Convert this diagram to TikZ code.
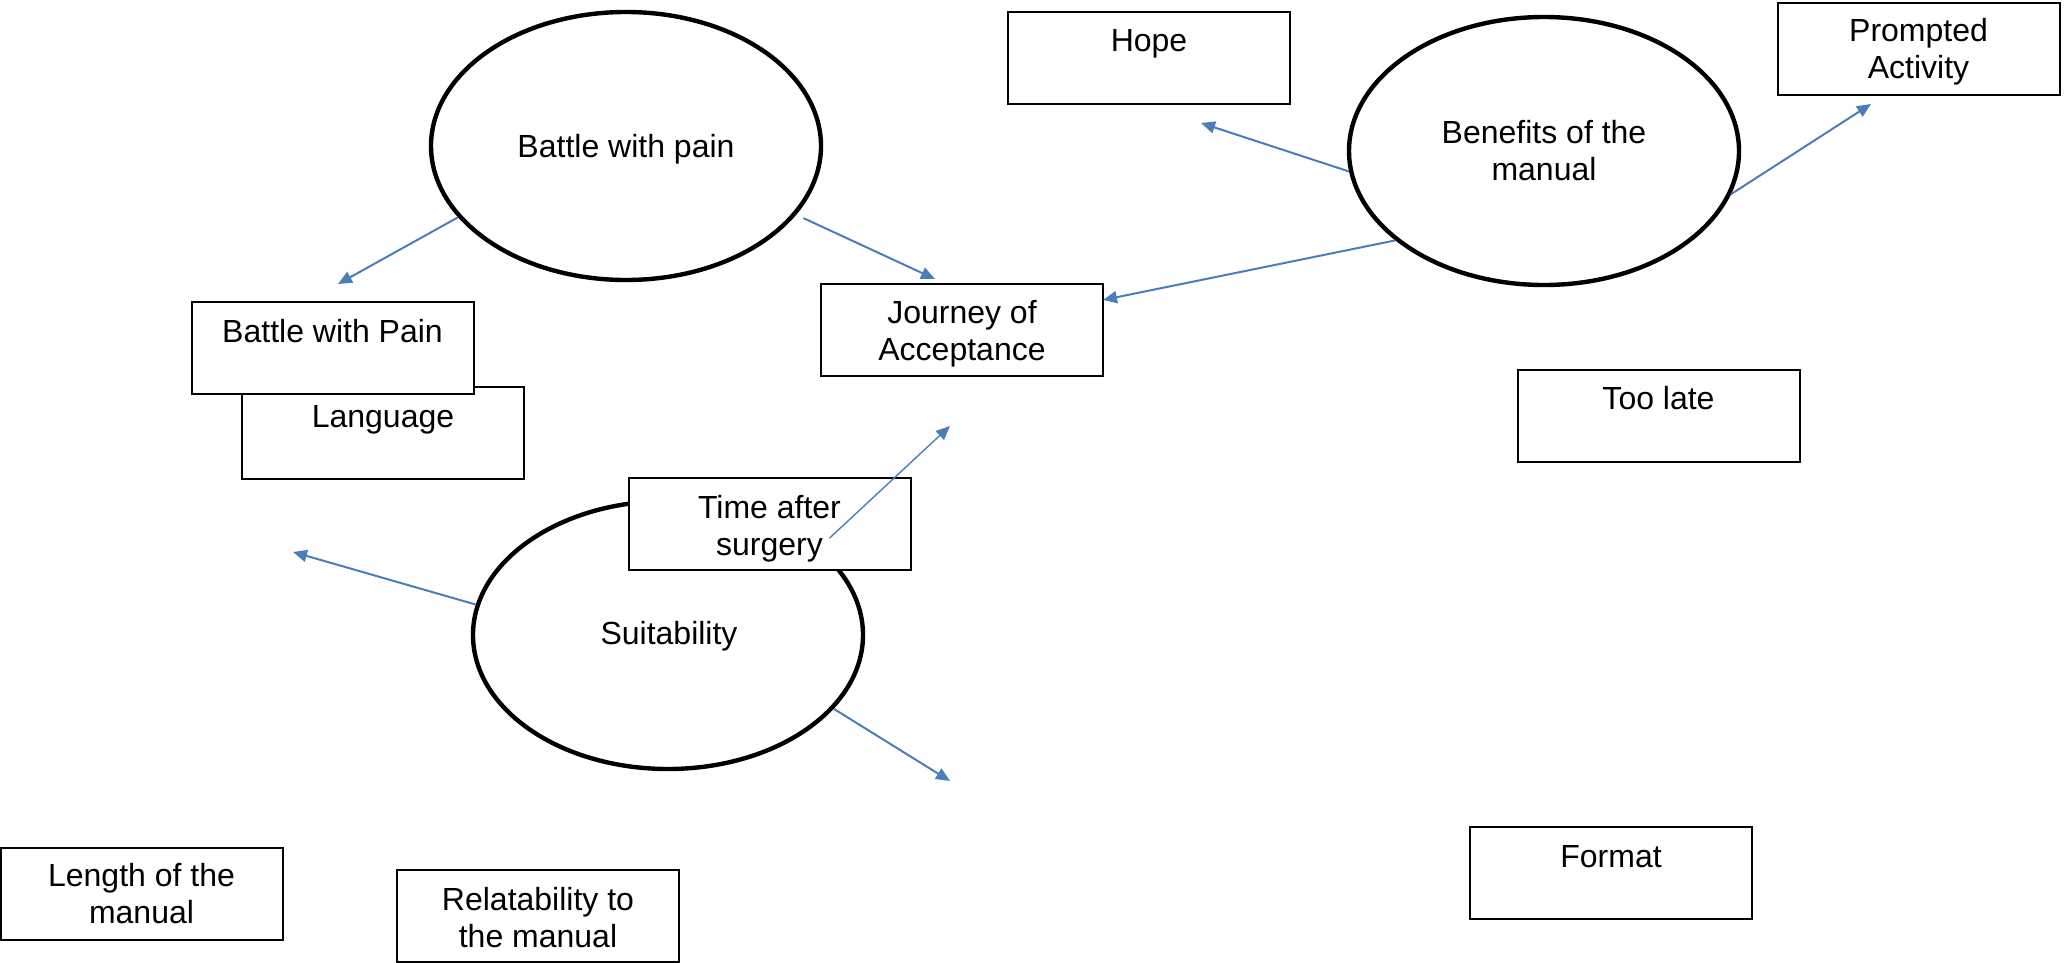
\documentclass[tikz,border=0pt]{standalone}
\usepackage{fontspec}
\setmainfont{Liberation Sans}
\usetikzlibrary{shapes.geometric,arrows.meta}
\definecolor{linkblue}{HTML}{4A7EBB}
\begin{document}
\begin{tikzpicture}[x=0.5pt,y=-0.5pt,
  theme/.style={ellipse,draw,line width=2.2pt,fill=white,
    minimum width=195pt,minimum height=134pt,inner sep=0pt},
  card/.style={rectangle,draw,line width=1pt,fill=white,
    minimum width=141pt,minimum height=46pt,inner sep=0pt},
  caption/.style={anchor=base,inner sep=0pt,align=center,
    font=\fontsize{16pt}{18.5pt}\selectfont},
  link/.style={draw=linkblue,line width=1pt,-{Triangle[length=7pt,width=6pt]}},
  thinlink/.style={link,line width=0.7pt}
]
\useasboundingbox (0,0) rectangle (2066,963);

% themes
\node[theme] (pain) at (626,146) {};
\node[theme] (bene) at (1544,151) {};
\node[theme] (suit) at (668,635) {};

% sub-theme boxes
\node[card] (lang)  at (383,432.5) {};
\node[card] (bwp)   at (332.5,347.5) {};
\node[card] (jour)  at (962,330) {};
\node[card] (hope)  at (1149,58.5) {};
\node[card] (prom)  at (1918.5,49) {};
\node[card] (late)  at (1658.5,415.5) {};
\node[card] (form)  at (1611,873) {};
\node[card] (time)  at (769.5,524) {};
\node[card] (leng)  at (141.5,893.5) {};
\node[card] (rela)  at (538,916) {};

% labels (base anchor = baseline of the last line)
\node[caption] (tpain) at (626,157) {Battle with pain};
\node[caption] (tbene) at (1544,180) {Benefits of the\\manual};
\node[caption] (tsuit) at (669,644) {Suitability};
\node[caption] (tbwp)  at (332.5,342) {Battle with Pain};
\node[caption] (tlang) at (383,427) {Language};
\node[caption] (tjour) at (962,360) {Journey of\\Acceptance};
\node[caption] (thope) at (1149,52) {Hope};
\node[caption] (tprom) at (1918.5,79) {Prompted\\Activity};
\node[caption] (tlate) at (1658.5,409) {Too late};
\node[caption] (tform) at (1611,867) {Format};
\node[caption] (ttime) at (769.5,555) {Time after\\surgery};
\node[caption] (tleng) at (141.5,923) {Length of the\\manual};
\node[caption] (trela) at (538,947) {Relatability to\\the manual};

% arrow tips
\coordinate (e1) at (338,284);
\coordinate (e2) at (935,279);
\coordinate (e3) at (1201,123);
\coordinate (e4) at (1103,300);
\coordinate (e5) at (1871,104);
\coordinate (e6) at (950,426);
\coordinate (e7) at (293,552);
\coordinate (e8) at (950,781);

% connectors
\draw[link] (pain.203) -- (e1);
\draw[link,shorten <=4pt] (pain.338) -- (e2);
\draw[link] (bene.186) -- (e3);
\draw[link] (bene.211) -- (e4);
\draw[link] (bene.347) -- (e5);
\draw[thinlink,shorten <=7pt] (suit.30) -- (e6);
\draw[link] (suit.171) -- (e7);
\draw[link] (suit.336) -- (e8);
\end{tikzpicture}
\end{document}
